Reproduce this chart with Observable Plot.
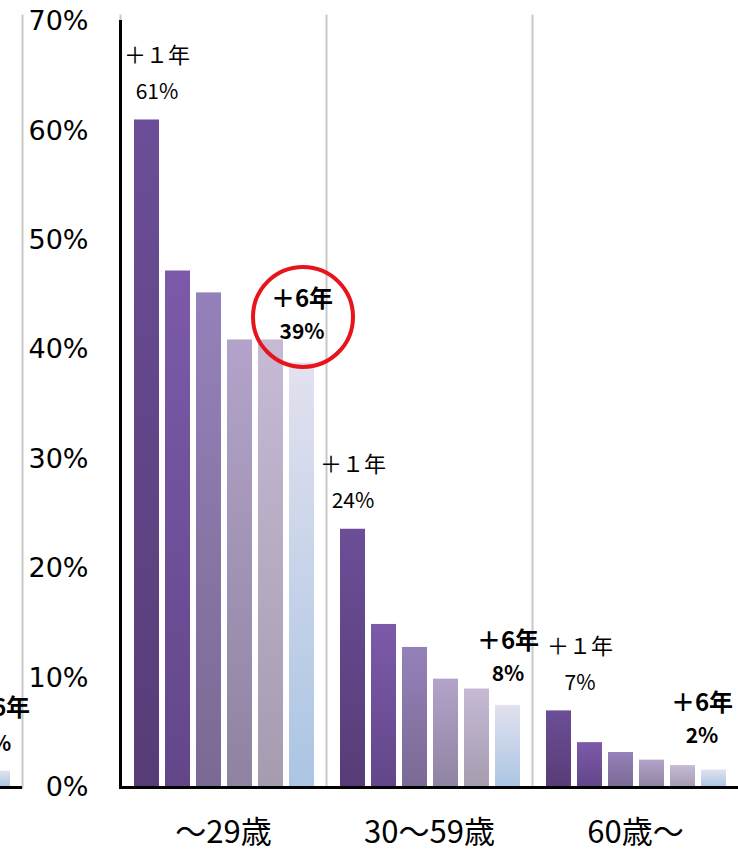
<!DOCTYPE html>
<html>
<head>
<meta charset="utf-8">
<script src="https://cdn.jsdelivr.net/npm/d3@7"></script>
<script src="https://cdn.jsdelivr.net/npm/@observablehq/plot@0.6"></script>
<style>
  html, body { margin: 0; padding: 0; background: #fff; overflow: hidden; }
  #wrap { position: relative; width: 738px; height: 850px; }
  #prev { position: absolute; left: -184px; top: 0; }
</style>
</head>
<body>
<svg width="0" height="0" style="position:absolute">
  <defs id="gradDefs"></defs>
</svg>
<div id="wrap"><div id="prev"></div><div id="main"></div></div>
<script>
// ---- data ----
const groups = ["～29歳", "30～59歳", "60歳～"];
const steps = ["＋1年", "＋2年", "＋3年", "＋4年", "＋5年", "＋6年"];
const under29 = [61.0, 47.2, 45.2, 40.9, 40.9, 38.8];
const age30to59 = [23.6, 14.9, 12.8, 9.9, 9.0, 7.5];
const over60 = [7.0, 4.1, 3.2, 2.5, 2.0, 1.6];
const yTicks = [0, 10, 20, 30, 40, 50, 60, 70];
// remnant of the neighbouring chart (cut at the left edge)
const prevStep = [5];
const prevValue = [1.5];
const highlightGroup = "～29歳";
const highlightStep = 5;

// ---- styles ----
const gradStops = [
  ["#6b4e97", "#583c77"],
  ["#7c5aa9", "#63468a"],
  ["#9581ba", "#7a6a93"],
  ["#b3a3ca", "#8f83a1"],
  ["#c6bad5", "#a59cb0"],
  ["#e2e1ef", "#abc5e3"]
];
const firstLabelShift = [10, 0, 21];
const lastLabelShift = [0, 0, -12];
const lastLabelLift = [0, 0, 3];

const defs = d3.select("#gradDefs");
gradStops.forEach(([top, bottom], i) => {
  const g = defs.append("linearGradient").attr("id", "barGrad" + i)
    .attr("x1", 0).attr("y1", 0).attr("x2", 0).attr("y2", 1);
  g.append("stop").attr("offset", "0%").attr("stop-color", top);
  g.append("stop").attr("offset", "100%").attr("stop-color", bottom);
});

const series = [under29, age30to59, over60];
const rows = groups.flatMap((g, gi) =>
  series[gi].map((v, i) => ({group: g, step: i, label: steps[i], value: v}))
);
const prevRows = prevStep.map((s, k) => ({step: s, label: steps[s], value: prevValue[k]}));

const cjk = "'Noto Sans CJK JP', 'DejaVu Sans', sans-serif";
const xScale = {domain: d3.range(6), paddingInner: 0.2, paddingOuter: 0.35, align: 0.55, axis: null};
const common = {
  height: 850, marginTop: 21, marginBottom: 63,
  style: {background: "transparent", overflow: "visible", maxWidth: "none", fontFamily: cjk, color: "black"}
};
const pct = d => Math.round(d.value) + "%";
const wide = d => d.label.replace(/\d/g, c => String.fromCharCode(c.charCodeAt(0) + 0xFEE0));
const pos = {fx: "group", x: "step", y: "value", lineAnchor: "middle"};

const labelMarks = groups.flatMap((g, gi) => [
  Plot.text(rows, {filter: d => d.group === g && d.step === 0, ...pos, text: wide,
    dy: -64, dx: firstLabelShift[gi], fontSize: 22}),
  Plot.text(rows, {filter: d => d.group === g && d.step === 0, ...pos, text: pct,
    dy: -28, dx: firstLabelShift[gi], fontSize: 21}),
  Plot.text(rows, {filter: d => d.group === g && d.step === 5, ...pos, text: "label",
    dy: -64 - lastLabelLift[gi], dx: lastLabelShift[gi], fontSize: 24, fontWeight: "bold"}),
  Plot.text(rows, {filter: d => d.group === g && d.step === 5, ...pos, text: pct,
    dy: -31 - lastLabelLift[gi], dx: lastLabelShift[gi], fontSize: 21, fontWeight: "bold"})
]);

const chart = Plot.plot({
  ...common,
  width: 738, marginLeft: 120, marginRight: 0,
  fx: {domain: groups, padding: 0, label: null},
  x: xScale,
  y: {domain: [0, 70]},
  color: {type: "identity"},
  marks: [
    Plot.frame({anchor: "left", stroke: "#c8c8c8", strokeWidth: 2, insetTop: -6}),
    Plot.barY(rows, {fx: "group", x: "step", y: "value", fill: d => `url(#barGrad${d.step})`}),
    Plot.ruleY([0], {stroke: "black", strokeWidth: 3}),
    Plot.frame({anchor: "left", facetAnchor: "left", stroke: "black", strokeWidth: 3}),
    Plot.axisY({ticks: yTicks, tickFormat: d => d + "%", tickSize: 0, tickPadding: 32,
      fontSize: 27, fontFamily: "DejaVu Sans", label: null}),
    Plot.axisFx({anchor: "bottom", tickSize: 0, tickPadding: 33, fontSize: 31, label: null}),
    ...labelMarks,
    // highlight ring
    Plot.dot(rows, {filter: d => d.group === highlightGroup && d.step === highlightStep, fx: "group", x: "step", y: "value",
      r: 50, dy: -46, dx: 1, stroke: "#e8141c", strokeWidth: 4, fill: "none"})
  ]
});
document.getElementById("main").appendChild(chart);

const prev = Plot.plot({
  ...common,
  width: 206, marginLeft: 0, marginRight: 0,
  x: xScale,
  y: {domain: [0, 70], axis: null},
  color: {type: "identity"},
  marks: [
    Plot.frame({anchor: "right", stroke: "#c8c8c8", strokeWidth: 2, insetTop: -6}),
    Plot.barY(prevRows, {x: "step", y: "value", fill: d => `url(#barGrad${d.step})`}),
    Plot.ruleY([0], {stroke: "black", strokeWidth: 3}),
    Plot.text(prevRows, {x: "step", y: "value", text: "label", dy: -63, dx: 1,
      fontSize: 24, fontWeight: "bold", lineAnchor: "middle"}),
    Plot.text(prevRows, {x: "step", y: "value", text: pct, dy: -27, dx: -3,
      fontSize: 21, fontWeight: "bold", lineAnchor: "middle"})
  ]
});
document.getElementById("prev").appendChild(prev);
</script>
</body>
</html>
